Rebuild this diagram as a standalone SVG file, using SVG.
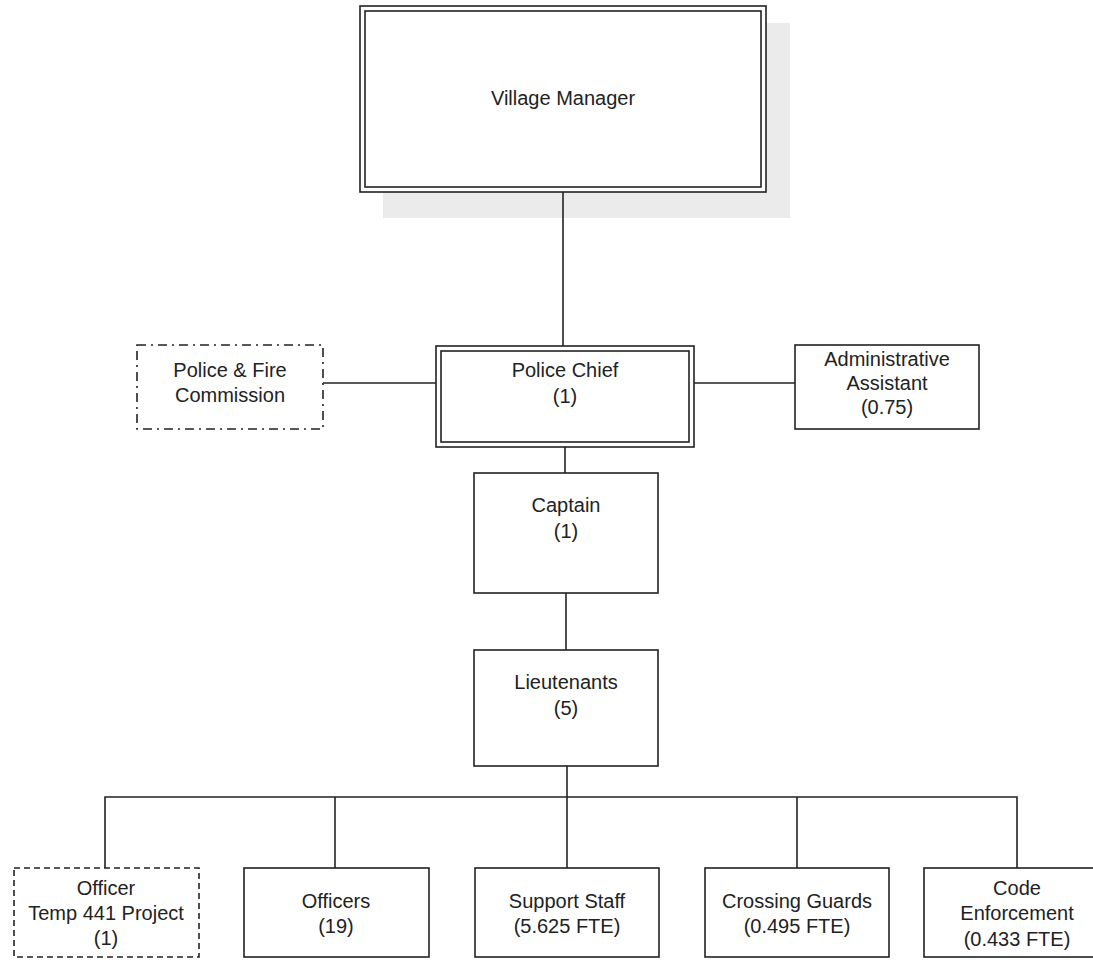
<svg xmlns="http://www.w3.org/2000/svg" width="1093" height="960" viewBox="0 0 1093 960">
<style>
text{font-family:"Liberation Sans",Arial,sans-serif;font-size:20px;fill:#222;text-anchor:middle}
.b{fill:#fff;stroke:#222;stroke-width:1.6}
.c{fill:none;stroke:#222;stroke-width:1.6}
.dd{stroke-dasharray:9 5 2 5}
.ds{stroke-dasharray:6 4}
</style>
<rect width="1093" height="960" fill="#fff"/>
<path d="M383 190 H766 V23 H790 V218 H383 Z" fill="#ebebeb"/>
<g id="connectors">
<path class="c" d="M563 192 V346"/>
<path class="c" d="M322 383 H436"/>
<path class="c" d="M694 383 H795"/>
<path class="c" d="M565 447 V473"/>
<path class="c" d="M566 593 V650"/>
<path class="c" d="M567 766 V797"/>
<path class="c" d="M105 868 V797 H1017 V868"/>
<path class="c" d="M335 797 V868"/>
<path class="c" d="M567 797 V868"/>
<path class="c" d="M797 797 V868"/>
</g>
<g id="village-manager">
<rect class="b" x="360" y="6" width="406" height="186"/>
<rect class="c" x="365" y="11" width="396" height="176"/>
<text x="563" y="105">Village Manager</text>
</g>
<g id="police-fire-commission">
<rect class="b dd" x="137" y="345" width="186" height="84"/>
<text x="230" y="377">Police &amp; Fire</text>
<text x="230" y="402">Commission</text>
</g>
<g id="police-chief">
<rect class="b" x="436" y="346" width="258" height="101"/>
<rect class="c" x="441" y="351" width="248" height="91"/>
<text x="565" y="377">Police Chief</text>
<text x="565" y="403">(1)</text>
</g>
<g id="administrative-assistant">
<rect class="b" x="795" y="345" width="184" height="84"/>
<text x="887" y="366">Administrative</text>
<text x="887" y="390">Assistant</text>
<text x="887" y="414">(0.75)</text>
</g>
<g id="captain">
<rect class="b" x="474" y="473" width="184" height="120"/>
<text x="566" y="512">Captain</text>
<text x="566" y="538">(1)</text>
</g>
<g id="lieutenants">
<rect class="b" x="474" y="650" width="184" height="116"/>
<text x="566" y="689">Lieutenants</text>
<text x="566" y="715">(5)</text>
</g>
<g id="officer-temp">
<rect class="b ds" x="14" y="868" width="185" height="89"/>
<text x="106" y="895">Officer</text>
<text x="106" y="920">Temp 441 Project</text>
<text x="106" y="945">(1)</text>
</g>
<g id="officers">
<rect class="b" x="244" y="868" width="185" height="89"/>
<text x="336" y="908">Officers</text>
<text x="336" y="933">(19)</text>
</g>
<g id="support-staff">
<rect class="b" x="475" y="868" width="184" height="89"/>
<text x="567" y="908">Support Staff</text>
<text x="567" y="933">(5.625 FTE)</text>
</g>
<g id="crossing-guards">
<rect class="b" x="705" y="868" width="184" height="89"/>
<text x="797" y="908">Crossing Guards</text>
<text x="797" y="933">(0.495 FTE)</text>
</g>
<g id="code-enforcement">
<rect class="b" x="924" y="868" width="186" height="89"/>
<text x="1017" y="895">Code</text>
<text x="1017" y="920">Enforcement</text>
<text x="1017" y="946">(0.433 FTE)</text>
</g>
</svg>
